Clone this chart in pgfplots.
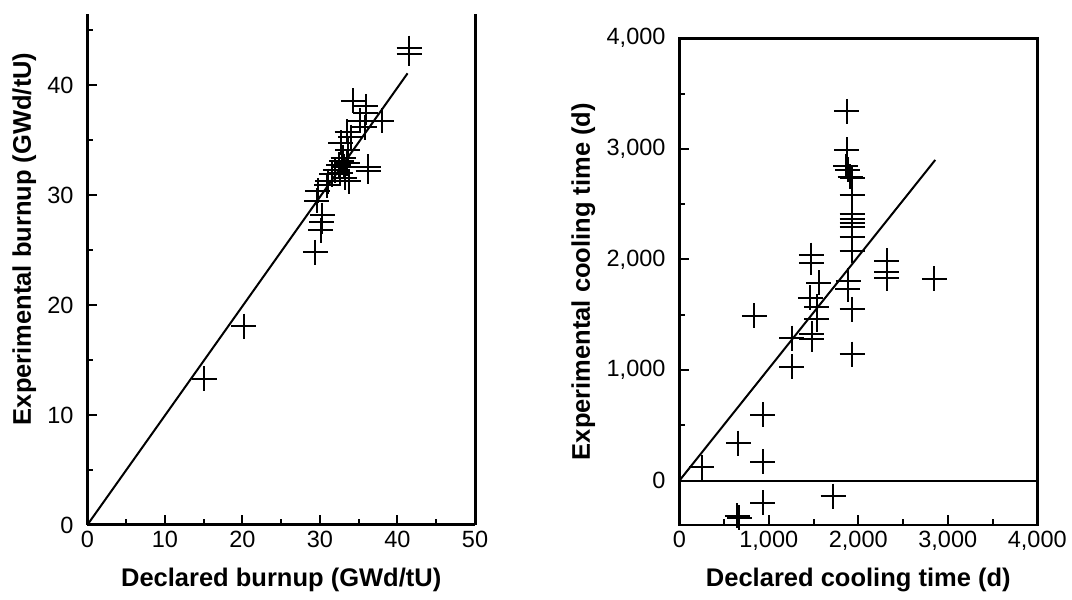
\documentclass[border=0pt]{standalone}
\usepackage{fontspec}
\setmainfont{Liberation Sans}
\usepackage{pgfplots}
\pgfplotsset{compat=1.18}

\pgfplotsset{
  scanstyle/.style={
    scale only axis,
    tick align=inside,
    major tick length=3.8pt,
    minor tick length=2.2pt,
    every tick/.style={black, line width=0.8pt},
    scaled ticks=false,
    /pgf/number format/assume math mode=true,
    /pgf/number format/1000 sep={,},
    tick label style={font=\fontsize{9.4}{11}\selectfont},
    yticklabel style={xshift=-2pt},
    xticklabel style={yshift=1pt},
  },
  pts/.style={only marks, mark=+, mark size=5pt, black, mark options={line width=0.8pt}},
}

\begin{document}
\begin{tikzpicture}
\path[use as bounding box] (0pt,0pt) rectangle (428.8pt,240pt);

% burnup
\begin{axis}[
  scanstyle,
  at={(34.92pt,30pt)}, anchor=south west,
  width=155.1pt, height=204.4pt,
  axis lines*=left,
  axis line style={line width=1.2pt},
  clip=false,
  xmin=0, xmax=50, ymin=0, ymax=46.5,
  xtick={0,10,20,30,40,50}, minor xtick={5,15,25,35,45},
  ytick={0,10,20,30,40}, minor ytick={5,15,25,35,45},
  xlabel={Declared burnup (GWd/tU)},
  ylabel={Experimental burnup (GWd/tU)},
  every axis x label/.style={at={(axis description cs:0.5,-0.108)}, anchor=center,
    font=\bfseries\fontsize{10.2}{12}\selectfont},
  every axis y label/.style={at={(axis description cs:-0.1625,0.56)}, rotate=90, anchor=center,
    font=\bfseries\fontsize{10.2}{12}\selectfont},
]
\draw[line width=1.2pt] (rel axis cs:1,0) -- (rel axis cs:1,1);
\addplot[black, line width=0.8pt] coordinates {(0,0) (41.3,41.1)};
\addplot[pts] coordinates {
 (15.1,13.3) (20.2,18.1) (29.4,24.8) (30.1,26.8) (30.2,27.6) (30.3,28.2)
 (29.6,29.5) (29.7,30.4) (30.9,30.9) (31.0,31.3) (31.5,31.9) (32.0,32.3)
 (32.4,32.8) (32.8,33.1) (33.1,32.6) (33.5,32.9) (33.2,31.6) (33.7,31.3)
 (32.6,32.0) (33.0,33.4) (33.6,34.1) (32.7,34.8) (33.5,35.8) (34.0,35.3)
 (34.3,38.6) (35.9,38.1) (35.9,37.5) (35.2,36.8) (38.0,36.8) (35.8,36.2)
 (36.2,32.6) (36.2,32.2) (41.5,43.4) (41.5,42.9)
};
\end{axis}

% cooling time
\begin{axis}[
  scanstyle,
  at={(271.72pt,30pt)}, anchor=south west,
  width=143.2pt, height=194.7pt,
  axis line style={line width=1.1pt},
  tick pos=left,
  xmin=0, xmax=4000, ymin=-400, ymax=4000,
  xtick={0,1000,2000,3000,4000}, minor xtick={500,1500,2500,3500},
  ytick={0,1000,2000,3000,4000}, minor ytick={500,1500,2500,3500},
  xlabel={Declared cooling time (d)},
  ylabel={Experimental cooling time (d)},
  every axis x label/.style={at={(axis description cs:0.5,-0.113)}, anchor=center,
    font=\bfseries\fontsize{10.2}{12}\selectfont},
  every axis y label/.style={at={(axis description cs:-0.268,0.5)}, rotate=90, anchor=center,
    font=\bfseries\fontsize{10.2}{12}\selectfont},
]
\addplot[black, line width=0.9pt] coordinates {(0,0) (4000,0)};
\addplot[black, line width=0.8pt] coordinates {(0,0) (2860,2900)};
\addplot[pts] coordinates {
 (250,120) (660,340) (650,-318) (670,-333) (935,597) (930,170) (935,-200)
 (840,1490) (1720,-140) (1255,1030) (1255,1290) (1475,2040) (1475,1970)
 (1560,1790) (1465,1655) (1535,1575) (1535,1460) (1480,1330) (1480,1280)
 (1870,3340) (1870,2990) (1860,2845) (1880,2810) (1910,2750) (1930,2740)
 (1930,2580) (1930,2410) (1930,2370) (1930,2330) (1930,2290) (1930,2200)
 (1930,2080) (1890,1810) (1880,1730) (1930,1550) (1930,1145)
 (2320,1990) (2320,1890) (2320,1830) (2850,1825)
};
\end{axis}
\end{tikzpicture}
\end{document}
